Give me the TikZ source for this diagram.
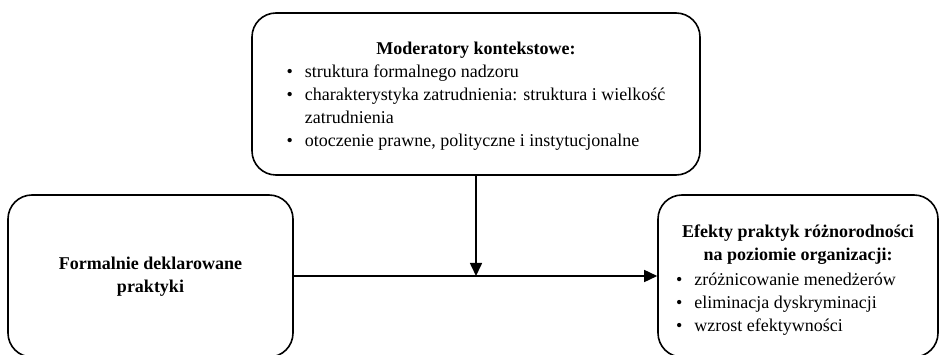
\documentclass[tikz,border=0pt]{standalone}
\usepackage{fontspec}
\setmainfont{Liberation Serif}
\usetikzlibrary{arrows.meta}
\tikzset{
  box/.style={draw, line width=1.6pt, rounded corners=24pt, inner sep=0pt,
    font=\fontsize{18}{23}\selectfont},
}
\newcommand{\bul}{\textbullet}
\newcommand{\shiftdown}[2]{\raisebox{-#1}[\height][\depth]{#2}}
\begin{document}
\begin{tikzpicture}[x=1pt,y=-1pt]
      \useasboundingbox (0,0) rectangle (939,355);
      \draw
        (476,94) node[box, minimum width=448pt, minimum height=162pt] (mod){%
          \shiftdown{2pt}{\begin{tabular}{@{}l@{\hspace{12pt}}l@{}}
            \multicolumn{2}{c}{\textbf{Moderatory kontekstowe:}}\\
            \bul & struktura formalnego nadzoru\\
            \bul & charakterystyka zatrudnienia: struktura i wielkość\\
                 & zatrudnienia\\
            \bul & otoczenie prawne, polityczne i instytucjonalne
          \end{tabular}}}
        (150.5,276) node[box, minimum width=285pt, minimum height=162pt] (prak){%
          \begin{tabular}{@{}c@{}}
            \textbf{Formalnie deklarowane}\\
            \textbf{praktyki}
          \end{tabular}}
        (798,276) node[box, minimum width=280pt, minimum height=162pt] (efk){%
          \shiftdown{4pt}{\begin{tabular}{@{}l@{\hspace{12pt}}l@{}}
            \multicolumn{2}{c}{\textbf{Efekty praktyk różnorodności}}\\
            \multicolumn{2}{c}{\textbf{na poziomie organizacji:}}\\[2pt]
            \bul & zróżnicowanie menedżerów\\
            \bul & eliminacja dyskryminacji\\
            \bul & wzrost efektywności
          \end{tabular}}};
      \coordinate (meet) at (mod.south |- prak.east);
      \begin{scope}[line width=1.6pt, -{Triangle[length=13pt,width=12pt]}]
        \draw (prak.east) to (efk.west);
        \draw (mod.south) to (meet);
      \end{scope}
    \end{tikzpicture}
\end{document}
